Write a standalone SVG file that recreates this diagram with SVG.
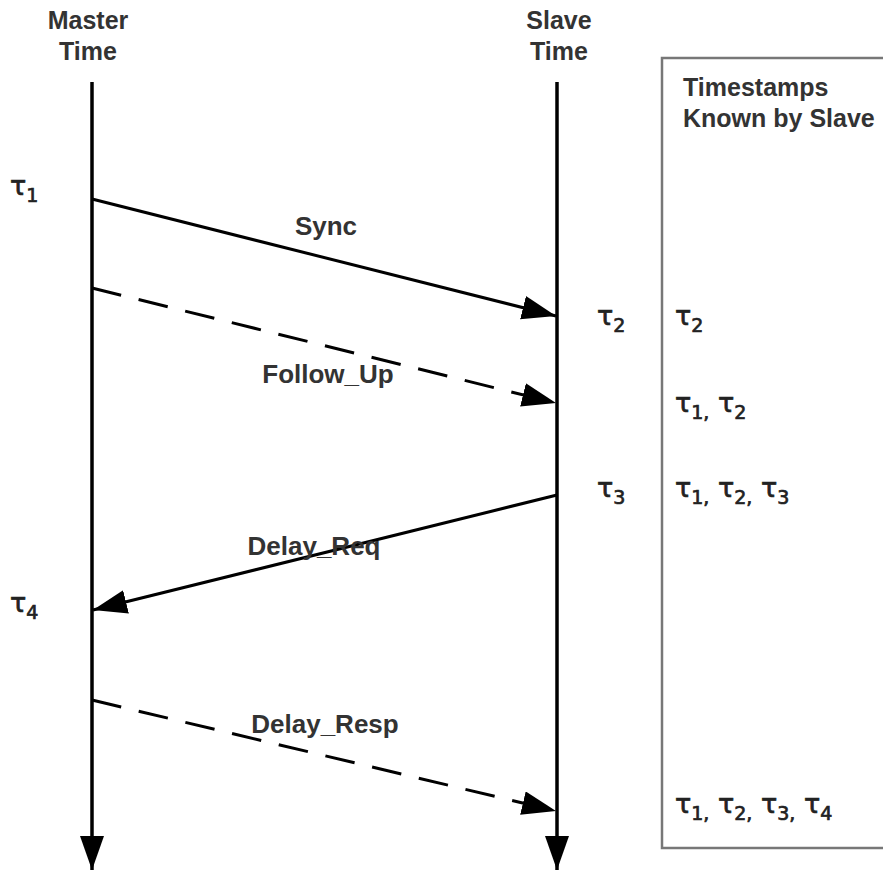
<svg xmlns="http://www.w3.org/2000/svg" width="883" height="872" viewBox="0 0 883 872">
<defs>
<marker id="ah" markerUnits="userSpaceOnUse" markerWidth="36" markerHeight="26" refX="34" refY="12" orient="auto">
<path d="M0,0 L34,12 L0,24 Z" fill="#000"/>
</marker>
<marker id="ahv" markerUnits="userSpaceOnUse" markerWidth="36" markerHeight="26" refX="34" refY="12" orient="auto">
<path d="M0,0 L34,12 L0,24 Z" fill="#000"/>
</marker>
<style>
.hd{font-family:"Liberation Sans",Arial,sans-serif;font-weight:bold;font-size:25px;fill:#333;}
.lb{font-family:"Liberation Sans",Arial,sans-serif;font-weight:bold;font-size:26px;fill:#333;}
.t{font-family:"DejaVu Sans","Liberation Sans",sans-serif;font-size:27px;fill:#222;stroke:#222;stroke-width:0.7;}
.s{font-size:19px;}
.msg{stroke:#000;stroke-width:3;fill:none;}
.dash{stroke-dasharray:30 18;}
.life{stroke:#000;stroke-width:3.5;fill:none;}
</style>
</defs>
<rect width="883" height="872" fill="#fff"/>
<g id="box">
<rect x="662" y="58" width="240" height="790" fill="none" stroke="#777" stroke-width="2.5"/>
<text class="hd" x="683" y="96">Timestamps</text>
<text class="hd" x="683" y="127">Known by Slave</text>
</g>
<g id="master">
<text class="hd" x="88" y="29" text-anchor="middle">Master</text>
<text class="hd" x="88" y="60" text-anchor="middle">Time</text>
<line class="life" x1="92" y1="82" x2="92" y2="870" marker-end="url(#ahv)"/>
</g>
<g id="slave">
<text class="hd" x="559" y="29" text-anchor="middle">Slave</text>
<text class="hd" x="559" y="60" text-anchor="middle">Time</text>
<line class="life" x1="557" y1="82" x2="557" y2="870" marker-end="url(#ahv)"/>
</g>
<g id="connectors">
<line class="msg" x1="92" y1="199" x2="556" y2="316" marker-end="url(#ah)"/>
<line class="msg dash" x1="92" y1="288" x2="556" y2="403" marker-end="url(#ah)"/>
<line class="msg" x1="557" y1="495" x2="93" y2="610" marker-end="url(#ah)"/>
<line class="msg dash" x1="92" y1="700" x2="556" y2="811" marker-end="url(#ah)"/>
</g>
<g id="labels">
<text class="lb" x="326" y="235" text-anchor="middle">Sync</text>
<text class="lb" x="328" y="383" text-anchor="middle">Follow_Up</text>
<text class="lb" x="314" y="555" text-anchor="middle">Delay_Req</text>
<text class="lb" x="325" y="733" text-anchor="middle">Delay_Resp</text>
</g>
<g id="taus">
<text class="t" x="10" y="195">τ<tspan class="s" dy="7">1</tspan></text>
<text class="t" x="597" y="325">τ<tspan class="s" dy="7">2</tspan></text>
<text class="t" x="597" y="497">τ<tspan class="s" dy="7">3</tspan></text>
<text class="t" x="10" y="612">τ<tspan class="s" dy="7">4</tspan></text>
<text class="t" x="675" y="325">τ<tspan class="s" dy="7">2</tspan></text>
<text class="t" x="675" y="412">τ<tspan class="s" dy="7">1,</tspan><tspan dy="-7"> τ</tspan><tspan class="s" dy="7">2</tspan></text>
<text class="t" x="675" y="497">τ<tspan class="s" dy="7">1,</tspan><tspan dy="-7"> τ</tspan><tspan class="s" dy="7">2,</tspan><tspan dy="-7"> τ</tspan><tspan class="s" dy="7">3</tspan></text>
<text class="t" x="675" y="813">τ<tspan class="s" dy="7">1,</tspan><tspan dy="-7"> τ</tspan><tspan class="s" dy="7">2,</tspan><tspan dy="-7"> τ</tspan><tspan class="s" dy="7">3,</tspan><tspan dy="-7"> τ</tspan><tspan class="s" dy="7">4</tspan></text>
</g>
</svg>
